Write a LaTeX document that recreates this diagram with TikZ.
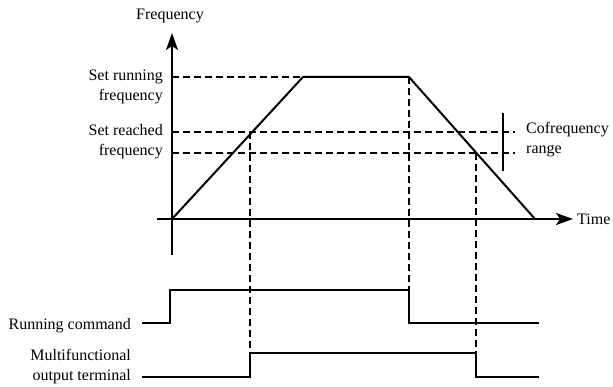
\documentclass[tikz,border=0pt]{standalone}
\usepackage{fontspec}
\setmainfont{Liberation Serif}
\newfontfamily\figfont{Liberation Serif}
\usetikzlibrary{arrows.meta, calc}
\tikzset{
  axis/.style={line width=2pt, black},
  axisarrow/.style={axis, -{Stealth[length=17pt, width=12pt, inset=4pt]}},
  sig/.style={line width=2pt, black, line join=miter},
  guide/.style={line width=1.5pt, black, dash pattern=on 7pt off 4pt},
  rangebar/.style={line width=1.6pt, black},
  lbl/.style={font=\figfont\fontsize{16}{20}\selectfont, inner sep=0pt},
  leftlbl/.style={lbl, anchor=east, align=right},
  rightlbl/.style={lbl, anchor=west, align=left}
}
\begin{document}
\begin{tikzpicture}[x=1pt, y=-1pt]
  \useasboundingbox (0,0) rectangle (613,387);
  % frequency graph
  \coordinate (ybot)  at (172,255);
  \coordinate (ytop)  at (172,33);
  \coordinate (xleft) at (157,219);
  \coordinate (xend)  at (573,219);
  \coordinate (orig)  at (172,219);
  \coordinate (acc)   at (303,77);
  \coordinate (dec)   at (409,77);
  \coordinate (stop)  at (535,219);
  \node[lbl]      (freq)    at (170,16)  {Frequency};
  \node[rightlbl] (time)    at (577,219) {Time};
  \node[leftlbl]  (setrun)  at (163,87)  {Set running\\frequency};
  \node[leftlbl]  (setreach) at (163,142) {Set reached\\frequency};
  \node[rightlbl] (cofreq)  at (526,140) {Cofrequency\\range};
  \coordinate (hiA) at (172,132);
  \coordinate (hiB) at (515,132);
  \coordinate (loA) at (172,153);
  \coordinate (loB) at (515,153);
  \coordinate (up)   at (250,132);
  \coordinate (down) at (476,153);
  % timing signals
  \node[leftlbl] (runcmd) at (131,326) {Running command};
  \node[leftlbl] (mfo)    at (131,367) {Multifunctional\\output terminal};
  \coordinate (r0) at (142,323);
  \coordinate (r1) at (170,323);
  \coordinate (r2) at (170,290);
  \coordinate (r3) at (409,290);
  \coordinate (r4) at (409,323);
  \coordinate (r5) at (539,323);
  \coordinate (m0) at (142,377);
  \coordinate (m1) at (250,377);
  \coordinate (m2) at (250,353);
  \coordinate (m3) at (476,353);
  \coordinate (m4) at (476,377);
  \coordinate (m5) at (539,377);
  % guides
  \draw[guide] (orig |- acc) -- (acc);
  \draw[guide] (hiA) -- (hiB);
  \draw[guide] (loA) -- (loB);
  \draw[guide] (up) -- (m2);
  \draw[guide] (dec) -- (r3);
  \draw[guide] (down) -- (m3);
  \draw[rangebar] (503,113) -- (503,171);
  % axes and curve
  \draw[axisarrow] (ybot) -- (ytop);
  \draw[axisarrow] (xleft) -- (xend);
  \draw[sig] (orig) -- (acc) -- (dec) -- (stop);
  \draw[sig] (r0) -- (r1) -- (r2) -- (r3) -- (r4) -- (r5);
  \draw[sig] (m0) -- (m1) -- (m2) -- (m3) -- (m4) -- (m5);
\end{tikzpicture}
\end{document}
